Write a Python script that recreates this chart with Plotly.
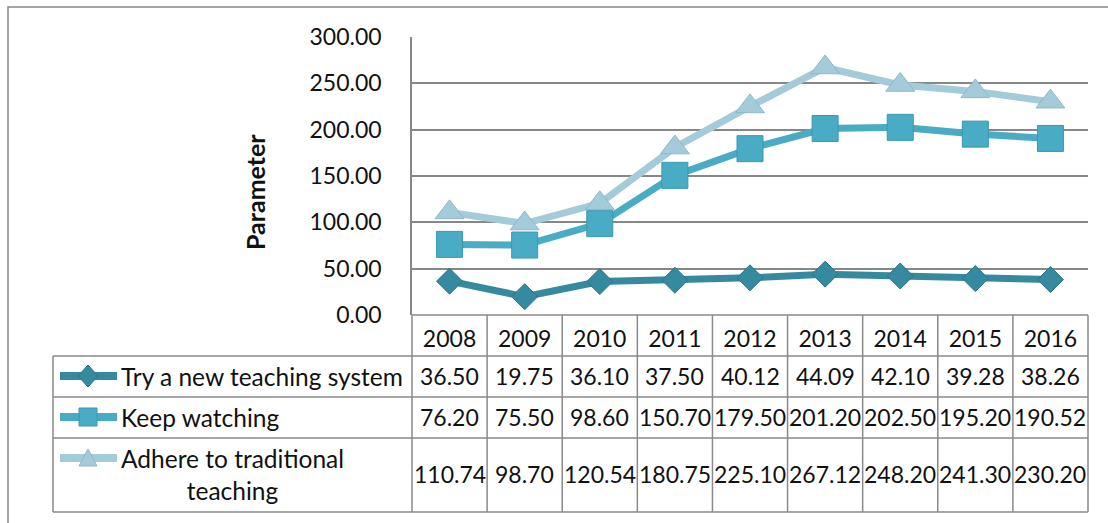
import plotly.graph_objects as go

# ---------------- data ----------------
years = ["2008", "2009", "2010", "2011", "2012", "2013", "2014", "2015", "2016"]
series_names = ["Try a new teaching system", "Keep watching", "Adhere to traditional<br>teaching"]
try_new = [36.50, 19.75, 36.10, 37.50, 40.12, 44.09, 42.10, 39.28, 38.26]
keep_watching = [76.20, 75.50, 98.60, 150.70, 179.50, 201.20, 202.50, 195.20, 190.52]
adhere = [110.74, 98.70, 120.54, 180.75, 225.10, 267.12, 248.20, 241.30, 230.20]
y_ticks = [0, 50, 100, 150, 200, 250, 300]
y_title = "Parameter"

# ---------------- style ----------------
W, H = 1108, 523
L, R, T, B = 412, 1088, 37, 315
PW, PH = R - L, B - T
FONT = "Lato"
GRID = "#878787"
colors = ["#368a9f", "#4aabc5", "#a3cbd9"]
edge = ["#2c7488", "#3b97b0", "#8fb8c7"]
symbols = ["diamond", "square", "triangle-up"]
msizes = [20, 26, 25]


def px_x(p):
    return (p - L) / PW


def px_y(p):
    return (B - p) / PH


all_series = [try_new, keep_watching, adhere]
n = len(years)

fig = go.Figure()
for i, vals in enumerate(all_series):
    fig.add_trace(go.Scatter(
        x=years, y=vals, mode="lines+markers",
        name=series_names[i],
        line=dict(color=colors[i], width=7),
        marker=dict(symbol=symbols[i], size=msizes[i], color=colors[i],
                    line=dict(color=edge[i], width=1)),
        showlegend=False, cliponaxis=False,
    ))

shapes = []
annotations = []

# outer chart frame
shapes.append(dict(type="rect", xref="paper", yref="paper",
                   x0=px_x(8), x1=px_x(1120), y0=px_y(540), y1=px_y(7),
                   line=dict(color="#888888", width=1.5), fillcolor="rgba(0,0,0,0)", layer="below"))

# data table grid
row_lines = [315, 356, 397, 438, 512]
for k, yy in enumerate(row_lines):
    x0 = L if k == 0 else 53
    shapes.append(dict(type="line", xref="paper", yref="paper",
                       x0=px_x(x0), x1=px_x(R), y0=px_y(yy), y1=px_y(yy),
                       line=dict(color="#8a8a8a", width=1.5)))
for j in range(n + 1):
    shapes.append(dict(type="line", xref="paper", yref="paper",
                       x0=j / n, x1=j / n, y0=px_y(512), y1=px_y(315),
                       line=dict(color="#8a8a8a", width=1.5)))
shapes.append(dict(type="line", xref="paper", yref="paper",
                   x0=px_x(53), x1=px_x(53), y0=px_y(512), y1=px_y(356),
                   line=dict(color="#8a8a8a", width=1.5)))

# table rows: legend keys + values
row_text_y = [376, 417, 474]
icon_y = [376, 417, 458]
marker_paths = [
    "M 0,-11 L 10,0 L 0,11 L -10,0 Z",
    "M -9,-9 L 9,-9 L 9,9 L -9,9 Z",
    "M -9,-8 L 9,-8 L 0,9 Z",
]
for i, vals in enumerate(all_series):
    yy = icon_y[i]
    shapes.append(dict(type="line", xref="paper", yref="paper",
                       x0=px_x(60), x1=px_x(117), y0=px_y(yy), y1=px_y(yy),
                       line=dict(color=colors[i], width=8)))
    shapes.append(dict(type="path", xref="paper", yref="paper",
                       xsizemode="pixel", ysizemode="pixel",
                       xanchor=px_x(88), yanchor=px_y(yy),
                       path=marker_paths[i], fillcolor=colors[i],
                       line=dict(color=edge[i], width=1)))
    annotations.append(dict(xref="paper", yref="paper", x=px_x(119), y=px_y(row_text_y[i]),
                            text=series_names[i], showarrow=False, xanchor="left", yanchor="middle",
                            align="center", font=dict(family=FONT, size=24.5, color="#111111")))
    for j, v in enumerate(vals):
        annotations.append(dict(xref="paper", yref="paper", x=(j + 0.5) / n, y=px_y(row_text_y[i]),
                                text=f"{v:.2f}", showarrow=False, xanchor="center", yanchor="middle",
                                font=dict(family=FONT, size=23, color="#111111")))

# y axis title
annotations.append(dict(xref="paper", yref="paper", x=px_x(255), y=px_y(192),
                        text=f"<b>{y_title}</b>", textangle=-90, showarrow=False,
                        xanchor="center", yanchor="middle",
                        font=dict(family=FONT, size=25, color="#111111")))

fig.update_layout(
    width=W, height=H,
    margin=dict(l=L, r=W - R, t=T, b=H - B, pad=0),
    paper_bgcolor="white", plot_bgcolor="white",
    shapes=shapes, annotations=annotations,
    font=dict(family=FONT, size=23, color="#111111"),
    xaxis=dict(type="category", range=[-0.5, n - 0.5], showgrid=False, zeroline=False,
               showline=False, ticks="", ticklabelstandoff=8,
               tickfont=dict(family=FONT, size=23, color="#111111"), fixedrange=True),
    yaxis=dict(range=[0, 300], tickvals=y_ticks, tickformat=".2f", showgrid=True,
               gridcolor=GRID, gridwidth=1.5, zeroline=False, showline=True,
               linecolor=GRID, linewidth=1.5, ticks="", ticklabelstandoff=24,
               tickfont=dict(family=FONT, size=23, color="#111111"), fixedrange=True),
)

fig.write_html("out.html")
